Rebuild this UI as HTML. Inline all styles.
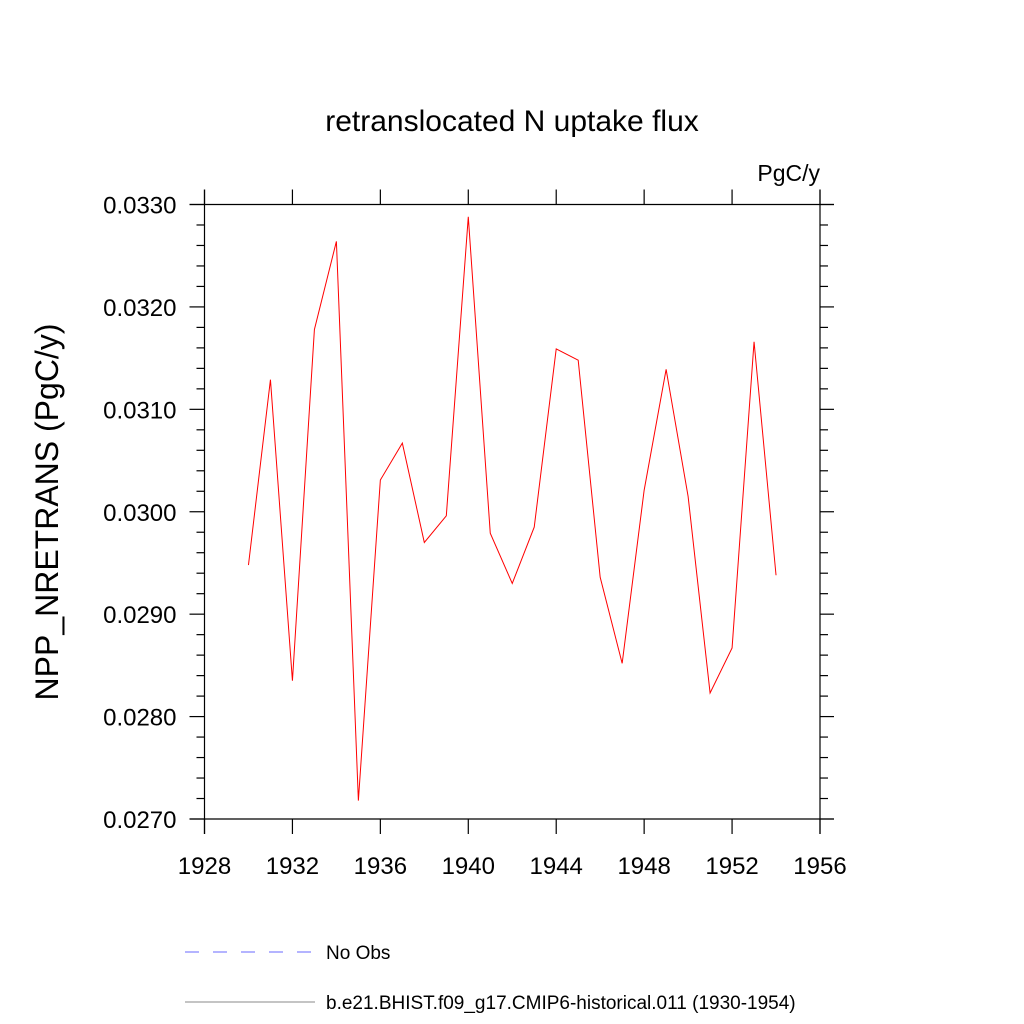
<!DOCTYPE html>
<html><head><meta charset="utf-8"><style>
body{margin:0;background:#fff}
svg{display:block;font-family:"Liberation Sans",sans-serif}
</style></head><body>
<svg id="chart" width="1024" height="1024" viewBox="0 0 1024 1024">
<text x="512" y="131" font-size="30" text-anchor="middle">retranslocated N uptake flux</text>
<text x="820" y="181" font-size="23" text-anchor="end">PgC/y</text>
<text transform="translate(58,512) rotate(-90)" font-size="32" text-anchor="middle">NPP_NRETRANS  (PgC/y)</text>
<g id="axes" stroke="#000" stroke-width="1.2" fill="none"></g>
<g id="labels" font-size="24" fill="#000"></g>
<polyline id="series" fill="none" stroke="#ff0000" stroke-width="1"></polyline>
<line x1="185" y1="952" x2="315" y2="952" stroke="#6a6aff" stroke-width="1" stroke-dasharray="14,14"/>
<text x="326" y="959" font-size="19">No Obs</text>
<line x1="185" y1="1002" x2="315" y2="1002" stroke="#888" stroke-width="1"/>
<text x="326" y="1009" font-size="19">b.e21.BHIST.f09_g17.CMIP6-historical.011 (1930-1954)</text>
</svg>
<script>
const years=[1930,1931,1932,1933,1934,1935,1936,1937,1938,1939,1940,1941,1942,1943,1944,1945,1946,1947,1948,1949,1950,1951,1952,1953,1954];
const values=[0.02948,0.03129,0.02835,0.03178,0.03264,0.02718,0.03031,0.03067,0.02970,0.02996,0.03288,0.02979,0.02930,0.02985,0.03159,0.03148,0.02936,0.02852,0.03021,0.03139,0.03015,0.02823,0.02867,0.03166,0.02938];
const xTicks=[1928,1932,1936,1940,1944,1948,1952,1956];
const yTicks=[0.0270,0.0280,0.0290,0.0300,0.0310,0.0320,0.0330];
const yTickLabels=["0.0270","0.0280","0.0290","0.0300","0.0310","0.0320","0.0330"];
const L=204.5,R=820,T=204.5,B=819;
const xs=v=>L+(v-1928)/(1956-1928)*(R-L);
const ys=v=>B-(v-0.027)/(0.033-0.027)*(B-T);
const NS="http://www.w3.org/2000/svg";
const ax=document.getElementById('axes'),lb=document.getElementById('labels');
function ln(x1,y1,x2,y2,name){const e=document.createElementNS(NS,'line');e.setAttribute('x1',x1);e.setAttribute('y1',y1);e.setAttribute('x2',x2);e.setAttribute('y2',y2);


ax.appendChild(e);}
ln(L,T,R,T,'plot-frame-top');ln(L,B,R,B,'plot-frame-bottom');ln(L,T-15,L,B+15,'y-axis-left');ln(R,T-15,R,B+15,'y-axis-right');
ln(L-15,T,L,T,'frame-ext');ln(R,T,R+14,T,'frame-ext');ln(L-15,B,L,B,'frame-ext');ln(R,B,R+14,B,'frame-ext');
xTicks.forEach(t=>{const x=xs(t);ln(x,T-15,x,T,'x-tick-top');ln(x,B,x,B+15,'x-tick-bottom');
const s=document.createElementNS(NS,'text');s.setAttribute('x',x);s.setAttribute('y',B+55);s.setAttribute('text-anchor','middle');s.textContent=t;


lb.appendChild(s);});
yTicks.forEach((t,i)=>{const y=ys(t);ln(L-15,y,L,y,'y-tick-left');ln(R,y,R+14,y,'y-tick-right');
const s=document.createElementNS(NS,'text');s.setAttribute('x',L-28);s.setAttribute('y',y+9);s.setAttribute('text-anchor','end');s.textContent=yTickLabels[i];


lb.appendChild(s);
if(i<yTicks.length-1){for(let k=1;k<5;k++){const yy=ys(t+k*0.0002);ln(L-8,yy,L,yy,'y-minor-tick');ln(R,yy,R+8,yy,'y-minor-tick');}}});
document.getElementById('series').setAttribute('points',years.map((y,i)=>xs(y)+','+ys(values[i])).join(' '));
</script>
</body></html>
